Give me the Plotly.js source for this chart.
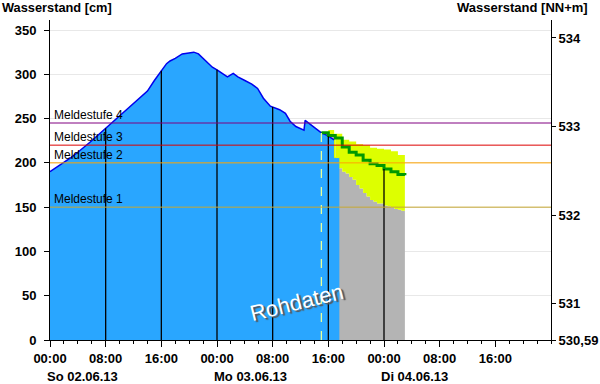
<!DOCTYPE html>
<html>
<head>
<meta charset="utf-8">
<script src="https://cdn.plot.ly/plotly-3.0.1.min.js"></script>
<style>html,body{margin:0;padding:0;background:#fff;}#chart{width:600px;height:384px;}</style>
</head>
<body>
<div id="chart"></div>
<script>
// ---- observed water level (Rohdaten), cm ----
const obsTimes = [
 '2013-06-02 00:00','2013-06-02 01:00','2013-06-02 02:00','2013-06-02 03:00','2013-06-02 04:00',
 '2013-06-02 05:00','2013-06-02 06:00','2013-06-02 07:00','2013-06-02 08:00','2013-06-02 09:00',
 '2013-06-02 10:00','2013-06-02 11:00','2013-06-02 12:00','2013-06-02 13:00','2013-06-02 14:00',
 '2013-06-02 15:00','2013-06-02 16:00','2013-06-02 16:45','2013-06-02 17:15','2013-06-02 18:00',
 '2013-06-02 19:00','2013-06-02 20:00','2013-06-02 20:40','2013-06-02 21:20','2013-06-02 22:00',
 '2013-06-02 22:40','2013-06-02 23:20','2013-06-03 00:00','2013-06-03 01:00','2013-06-03 01:30',
 '2013-06-03 02:20','2013-06-03 03:00','2013-06-03 04:00','2013-06-03 05:00','2013-06-03 05:50',
 '2013-06-03 06:40','2013-06-03 07:40','2013-06-03 09:00','2013-06-03 09:50','2013-06-03 10:30',
 '2013-06-03 11:20','2013-06-03 12:00','2013-06-03 12:30','2013-06-03 12:40','2013-06-03 13:10',
 '2013-06-03 14:00','2013-06-03 15:00','2013-06-03 15:50','2013-06-03 16:50'
];
const obsLevel = [
 190,195,201,206,212,
 218,225,232,239,246,
 253,260,267,273,281,
 293,304,312,315,318,
 323,324,325,323,318,
 312,308,305,299,297,
 301,297,293,289,284,
 273,264,260,256,247,
 241,239,237,248,245,
 239,234,231,226
];
// tail of observed fill (drop before end of raw data)
const tailTimes = ['2013-06-03 16:50','2013-06-03 16:53','2013-06-03 17:35'];
const tailLevel = [226, 206, 206];

// ---- forecast ----
const fcStart = '2013-06-03 15:00';
const medTimes = ['2013-06-03 15:00','2013-06-03 16:00','2013-06-03 17:00','2013-06-03 18:00','2013-06-03 19:00',
 '2013-06-03 20:00','2013-06-03 21:00','2013-06-03 22:00','2013-06-03 23:00','2013-06-04 00:00',
 '2013-06-04 01:00','2013-06-04 02:00','2013-06-04 03:00'];
const medLevel = [234,231,228,218,212,209,203,199,197,193,190,187,186];

const upTimes = ['2013-06-03 16:00','2013-06-03 16:50','2013-06-03 18:00','2013-06-03 19:00','2013-06-03 20:00',
 '2013-06-03 21:00','2013-06-03 22:00','2013-06-03 23:00','2013-06-04 00:00','2013-06-04 01:00',
 '2013-06-04 02:00','2013-06-04 03:00'];
const upLevel = [237,233,226,224,221,220,217,216,215,213,209,208];

const lowTimes = ['2013-06-03 16:00','2013-06-03 17:00','2013-06-03 17:30','2013-06-03 18:00','2013-06-03 18:30',
 '2013-06-03 19:00','2013-06-03 19:30','2013-06-03 20:00','2013-06-03 20:30','2013-06-03 21:00',
 '2013-06-03 21:30','2013-06-03 22:00','2013-06-03 22:30','2013-06-03 23:00','2013-06-04 00:00',
 '2013-06-04 00:30','2013-06-04 01:00','2013-06-04 01:30','2013-06-04 02:00','2013-06-04 02:30','2013-06-04 03:00'];
const lowLevel = [230,206,194,190,188,184,181,175,171,166,162,158,156,154,152,151,150,148,147,146,146];

// ---- warning levels ----
const meldNames = ['Meldestufe 1','Meldestufe 2','Meldestufe 3','Meldestufe 4'];
const meldLevels = [150, 200, 220, 245];
const meldColors = ['#c8a832','#ffa500','#dd0000','#800080'];

// ---- axes ----
const xTickVals = ['2013-06-02 00:00','2013-06-02 08:00','2013-06-02 16:00','2013-06-03 00:00','2013-06-03 08:00',
 '2013-06-03 16:00','2013-06-04 00:00','2013-06-04 08:00','2013-06-04 16:00'];
const xTickText = ['00:00','08:00','16:00','00:00','08:00','16:00','00:00','08:00','16:00'];
const dayLabels = ['So 02.06.13','Mo 03.06.13','Di 04.06.13'];
const dayDates = ['2013-06-02 00:00','2013-06-03 00:00','2013-06-04 00:00'];
const yTickVals = [0,50,100,150,200,250,300,350];
const nnOffset = 530.59;
const y2TickVals = [530.59,531,532,533,534];
const y2TickText = ['530,59','531','532','533','534'];
const markerLineTimes = ['2013-06-02 08:00','2013-06-02 16:00','2013-06-03 00:00','2013-06-03 08:00','2013-06-03 16:00','2013-06-04 00:00'];

// ---- helpers (lookup on the data) ----
const ms = s => new Date(s.replace(' ','T')+':00Z').getTime();
function levelAt(t){
  const tm = ms(t);
  const lastObs = ms(obsTimes[obsTimes.length-1]);
  if (tm <= lastObs){
    for (let i=0;i<obsTimes.length-1;i++){
      const a=ms(obsTimes[i]), b=ms(obsTimes[i+1]);
      if (tm>=a && tm<=b) return obsLevel[i]+(obsLevel[i+1]-obsLevel[i])*(tm-a)/(b-a);
    }
  }
  let v = medLevel[0];
  for (let i=0;i<medTimes.length;i++){ if (ms(medTimes[i])<=tm) v = medLevel[i]; }
  return v;
}

const vx=[], vy=[];
markerLineTimes.forEach(t=>{ vx.push(t,t,null); vy.push(0, levelAt(t), null); });

const FONT = 'Liberation Sans, Arial, sans-serif';

const traces = [
  {x: lowTimes, y: lowLevel, type:'scatter', mode:'lines', line:{shape:'hv', width:0, color:'#b4b4b4'},
   fill:'tozeroy', fillcolor:'#b4b4b4', hoverinfo:'skip'},
  {x: upTimes, y: upLevel, type:'scatter', mode:'lines', line:{shape:'hv', width:0, color:'#ddff00'},
   fill:'tonexty', fillcolor:'#ddff00', hoverinfo:'skip'},
  {x: obsTimes.concat(tailTimes.slice(1)), y: obsLevel.concat(tailLevel.slice(1)), type:'scatter', mode:'lines',
   line:{width:0, color:'#29a6ff'}, fill:'tozeroy', fillcolor:'#29a6ff', hoverinfo:'skip'},
  {x: obsTimes, y: obsLevel, type:'scatter', mode:'lines', line:{width:1.5, color:'#0000ee'}, hoverinfo:'skip'},
  {x: tailTimes, y: tailLevel, type:'scatter', mode:'lines', line:{width:1, color:'#ddff00', shape:'hv'}, hoverinfo:'skip'},
  {x: medTimes, y: medLevel, type:'scatter', mode:'lines', line:{shape:'hv', width:3, color:'#009900'}, hoverinfo:'skip'},
  {x: vx, y: vy, type:'scatter', mode:'lines', line:{width:1.3, color:'#000000'}, hoverinfo:'skip'},
  {x:[fcStart, fcStart], y:[0, levelAt(fcStart)], type:'scatter', mode:'lines',
   line:{width:1.3, color:'#e6ff99', dash:'dash'}, hoverinfo:'skip'},
  {x:[obsTimes[0]], y:[nnOffset+obsLevel[0]/100], yaxis:'y2', type:'scatter', mode:'markers',
   marker:{opacity:0}, hoverinfo:'skip'}
];

const shapes = meldLevels.map((v,i)=>({type:'line', xref:'paper', x0:0, x1:1, yref:'y', y0:v, y1:v,
  line:{color:meldColors[i], width:1}, layer:'above'}));

const annotations = [];
meldLevels.forEach((v,i)=>annotations.push({xref:'paper', x:0.006, xanchor:'left', yref:'y', y:v, yanchor:'bottom',
  text:meldNames[i], showarrow:false, font:{family:FONT, size:12, color:'#000'}, borderpad:0}));
dayLabels.forEach((t,i)=>annotations.push({xref:'x', x:dayDates[i], xanchor:'left', xshift:-5.5,
  yref:'paper', y:-0.1125, yanchor:'middle', text:t, showarrow:false,
  font:{family:FONT, size:13, color:'#000', weight:700}}));
annotations.push({xref:'paper', x:-0.099, xanchor:'left', yref:'paper', y:1.0375, yanchor:'middle',
  text:'Wasserstand [cm]', showarrow:false, font:{family:FONT, size:12.8, color:'#000', weight:700}});
annotations.push({xref:'paper', x:1.077, xanchor:'right', yref:'paper', y:1.0375, yanchor:'middle',
  text:'Wasserstand [NN+m]', showarrow:false, font:{family:FONT, size:13, color:'#000', weight:700}});
annotations.push({xref:'x', x:'2013-06-03 11:25', yref:'y', y:42, text:'Rohdaten', showarrow:false,
  textangle:-14, font:{family:FONT, size:22, color:'#ffffff', shadow:'2px 2px 1px #555555'}});

const layout = {
  width:600, height:384,
  margin:{l:50, r:49, t:20, b:44, pad:0},
  paper_bgcolor:'#ffffff', plot_bgcolor:'#ffffff',
  showlegend:false,
  font:{family:FONT, size:13, color:'#000'},
  xaxis:{type:'date', range:['2013-06-02 00:00','2013-06-05 00:00'],
    tickmode:'array', tickvals:xTickVals, ticktext:xTickText,
    ticks:'outside', ticklen:6, tickwidth:1, tickcolor:'#000',
    minor:{tickmode:'linear', tick0:'2013-06-02 00:00', dtick:7200000, ticks:'outside', ticklen:3, tickwidth:1, tickcolor:'#000', showgrid:false},
    showline:true, linecolor:'#000', linewidth:1, showgrid:false, zeroline:false,
    tickfont:{family:FONT, size:13, color:'#000', weight:700}},
  yaxis:{range:[0,361.3], tickmode:'array', tickvals:yTickVals,
    ticks:'outside', ticklen:5, tickwidth:1, tickcolor:'#000', ticklabelstandoff:5,
    showline:true, linecolor:'#000', linewidth:1, showgrid:true, gridcolor:'#e8e8e8', zeroline:false,
    tickfont:{family:FONT, size:13, color:'#000', weight:700}},
  yaxis2:{overlaying:'y', side:'right', range:[nnOffset, nnOffset+3.613],
    tickmode:'array', tickvals:y2TickVals, ticktext:y2TickText,
    ticks:'outside', ticklen:4, tickwidth:1, tickcolor:'#000',
    showline:true, linecolor:'#000', linewidth:1, showgrid:false, zeroline:false,
    tickfont:{family:FONT, size:13, color:'#000', weight:700}},
  shapes: shapes,
  annotations: annotations
};

Plotly.newPlot('chart', traces, layout, {staticPlot:true, displayModeBar:false});
</script>
</body>
</html>
